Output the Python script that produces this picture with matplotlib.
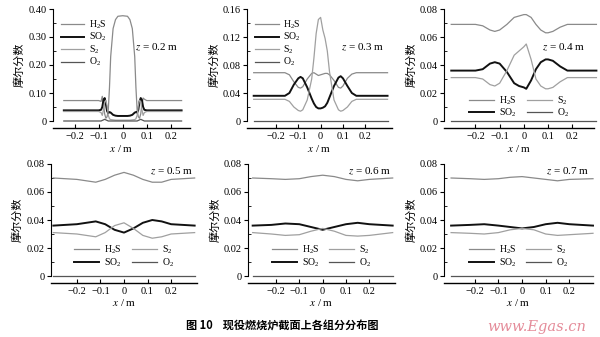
import matplotlib
matplotlib.use("Agg")
import matplotlib.pyplot as plt
from matplotlib.ticker import FixedLocator, MultipleLocator, FuncFormatter

plt.rcParams["font.family"] = ["Liberation Serif", "Noto Sans CJK SC"]
plt.rcParams["mathtext.fontset"] = "stix"
plt.rcParams["font.size"] = 7.5

# 截面位置 z = 0.2 m
x_02 = [-0.245, -0.10, -0.09, -0.085, -0.08, -0.075, -0.07, -0.065, -0.06, -0.055, -0.05,
        -0.04, -0.03, -0.02, 0.0, 0.02, 0.03, 0.04, 0.05, 0.055, 0.06, 0.065, 0.07,
        0.075, 0.08, 0.085, 0.09, 0.10, 0.245]
h2s_02 = [0.073, 0.073, 0.070, 0.088, 0.060, 0.025, 0.010, 0.015, 0.040, 0.120, 0.230,
          0.330, 0.362, 0.374, 0.376, 0.374, 0.362, 0.330, 0.230, 0.120, 0.040, 0.015,
          0.010, 0.025, 0.060, 0.082, 0.078, 0.073, 0.073]
so2_02 = [0.038, 0.038, 0.040, 0.050, 0.075, 0.082, 0.060, 0.035, 0.028, 0.032, 0.030,
          0.022, 0.019, 0.018, 0.018, 0.018, 0.019, 0.022, 0.030, 0.032, 0.030, 0.040,
          0.070, 0.082, 0.075, 0.050, 0.040, 0.038, 0.038]
s2_02 = [0.034, 0.034, 0.030, 0.020, 0.040, 0.068, 0.074, 0.055, 0.020, 0.008, 0.005,
         0.004, 0.003, 0.003, 0.003, 0.003, 0.003, 0.004, 0.005, 0.008, 0.020, 0.055,
         0.074, 0.068, 0.040, 0.020, 0.030, 0.034, 0.034]
o2_02 = [0.0, 0.0, 0.0, 0.002, 0.004, 0.006, 0.004, 0.002, 0.0, 0.0, 0.0,
         0.0, 0.0, 0.0, 0.0, 0.0, 0.0, 0.0, 0.0, 0.0, 0.0, 0.002,
         0.004, 0.006, 0.004, 0.002, 0.0, 0.0, 0.0]

# z = 0.3 m
x_03 = [-0.30, -0.16, -0.14, -0.12, -0.10, -0.09, -0.08, -0.06, -0.04, -0.03, -0.02, -0.01,
        0.0, 0.01, 0.02, 0.03, 0.04, 0.06, 0.08, 0.09, 0.10, 0.12, 0.14, 0.16, 0.30]
h2s_03 = [0.069, 0.069, 0.066, 0.056, 0.048, 0.047, 0.049, 0.060, 0.068, 0.069, 0.067, 0.065,
          0.066, 0.067, 0.068, 0.068, 0.066, 0.058, 0.048, 0.047, 0.050, 0.061, 0.067, 0.069, 0.069]
so2_03 = [0.036, 0.036, 0.040, 0.052, 0.061, 0.063, 0.061, 0.048, 0.032, 0.025, 0.020, 0.018,
          0.018, 0.019, 0.021, 0.026, 0.034, 0.050, 0.062, 0.064, 0.061, 0.050, 0.040, 0.036, 0.036]
s2_03 = [0.031, 0.031, 0.028, 0.020, 0.015, 0.014, 0.016, 0.030, 0.060, 0.090, 0.125, 0.145,
         0.148, 0.130, 0.118, 0.100, 0.070, 0.030, 0.016, 0.014, 0.015, 0.020, 0.028, 0.031, 0.031]
o2_03 = [0.0] * len(x_03)

# z = 0.4 m
x_04 = [-0.30, -0.20, -0.17, -0.14, -0.12, -0.10, -0.07, -0.04, -0.02, 0.0, 0.01, 0.03,
        0.05, 0.07, 0.09, 0.10, 0.12, 0.15, 0.18, 0.30]
h2s_04 = [0.069, 0.069, 0.068, 0.065, 0.064, 0.065, 0.069, 0.074, 0.075, 0.076, 0.076, 0.074,
          0.069, 0.065, 0.063, 0.063, 0.064, 0.067, 0.069, 0.069]
so2_04 = [0.036, 0.036, 0.037, 0.041, 0.042, 0.041, 0.035, 0.027, 0.025, 0.024, 0.023, 0.029,
          0.037, 0.042, 0.044, 0.044, 0.043, 0.039, 0.036, 0.036]
s2_04 = [0.031, 0.031, 0.030, 0.026, 0.025, 0.027, 0.036, 0.047, 0.050, 0.053, 0.055, 0.044,
         0.030, 0.025, 0.023, 0.023, 0.024, 0.028, 0.031, 0.031]
o2_04 = [0.0] * len(x_04)

# z = 0.5 m
x_05 = [-0.30, -0.20, -0.16, -0.12, -0.08, -0.04, 0.0, 0.04, 0.08, 0.12, 0.16, 0.20, 0.30]
h2s_05 = [0.070, 0.069, 0.068, 0.067, 0.069, 0.072, 0.074, 0.072, 0.069, 0.067, 0.067, 0.069, 0.070]
so2_05 = [0.036, 0.037, 0.038, 0.039, 0.037, 0.033, 0.031, 0.034, 0.038, 0.040, 0.039, 0.037, 0.036]
s2_05 = [0.031, 0.030, 0.029, 0.028, 0.031, 0.036, 0.038, 0.034, 0.029, 0.027, 0.028, 0.030, 0.031]
o2_05 = [0.0] * len(x_05)

# z = 0.6 m
x_06 = [-0.30, -0.22, -0.16, -0.10, -0.05, 0.0, 0.05, 0.10, 0.15, 0.20, 0.30]
h2s_06 = [0.070, 0.0695, 0.069, 0.0695, 0.071, 0.072, 0.071, 0.069, 0.068, 0.069, 0.070]
so2_06 = [0.036, 0.0365, 0.0375, 0.037, 0.035, 0.033, 0.035, 0.037, 0.038, 0.037, 0.036]
s2_06 = [0.031, 0.030, 0.029, 0.0295, 0.032, 0.034, 0.032, 0.029, 0.0285, 0.029, 0.031]
o2_06 = [0.0] * len(x_06)

# z = 0.7 m
x_07 = [-0.30, -0.22, -0.16, -0.10, -0.05, 0.0, 0.05, 0.10, 0.15, 0.20, 0.30]
h2s_07 = [0.070, 0.0695, 0.069, 0.0695, 0.0705, 0.071, 0.070, 0.069, 0.068, 0.069, 0.0695]
so2_07 = [0.036, 0.0365, 0.037, 0.036, 0.035, 0.034, 0.035, 0.037, 0.038, 0.037, 0.036]
s2_07 = [0.031, 0.0305, 0.030, 0.031, 0.033, 0.034, 0.033, 0.030, 0.029, 0.0295, 0.0305]
o2_07 = [0.0] * len(x_07)

z_labels = ["0.2", "0.3", "0.4", "0.5", "0.6", "0.7"]
species = [r"$\mathregular{H_2S}$", r"$\mathregular{SO_2}$", r"$\mathregular{S_2}$", r"$\mathregular{O_2}$"]
x_ticks = [-0.2, -0.1, 0.0, 0.1, 0.2]

panels = [
    (x_02, [h2s_02, so2_02, s2_02, o2_02]),
    (x_03, [h2s_03, so2_03, s2_03, o2_03]),
    (x_04, [h2s_04, so2_04, s2_04, o2_04]),
    (x_05, [h2s_05, so2_05, s2_05, o2_05]),
    (x_06, [h2s_06, so2_06, s2_06, o2_06]),
    (x_07, [h2s_07, so2_07, s2_07, o2_07]),
]

colors = ["#8a8a8a", "#111111", "#a0a0a0", "#555555"]
widths = [0.9, 1.4, 0.9, 0.9]

W, H = 600, 337
# left, right (px) and y of top / zero (px) for each panel
boxes = [
    (53, 190, 9, 121), (247, 392, 9, 121), (444, 594, 9, 121),
    (51, 197, 164, 276), (248, 395, 164, 276), (444, 593, 164, 276),
]
xlims = [(-0.29, 0.28), (-0.33, 0.32), (-0.33, 0.29),
         (-0.31, 0.31), (-0.32, 0.31), (-0.33, 0.30)]
ymax = [0.40, 0.16, 0.08, 0.08, 0.08, 0.08]
ystep = [0.10, 0.04, 0.02, 0.02, 0.02, 0.02]


def fmt_y(v, pos):
    if abs(v) < 1e-9:
        return "0"
    return f"{v:.2f}"


def fmt_x(v, pos):
    if abs(v) < 1e-9:
        return "0"
    return f"{v:.1f}".replace("-", "\u2212")


fig = plt.figure(figsize=(6.0, 3.37), dpi=100)
fig.patch.set_facecolor("white")

for i, (x, series) in enumerate(panels):
    l, r, t, b = boxes[i]
    ax = fig.add_axes([l / W, 1 - b / H, (r - l) / W, (b - t) / H])
    lines = []
    for y, c, lw, name in zip(series, colors, widths, species):
        ln, = ax.plot(x, y, color=c, lw=lw, label=name, clip_on=False)
        lines.append(ln)

    ax.set_xlim(*xlims[i])
    ax.set_ylim(0, ymax[i])
    for s in ["top", "right"]:
        ax.spines[s].set_visible(False)
    ax.spines["bottom"].set_position(("outward", 5))
    ax.spines["left"].set_linewidth(0.8)
    ax.spines["bottom"].set_linewidth(1.0)

    ax.yaxis.set_major_locator(MultipleLocator(ystep[i]))
    ax.yaxis.set_minor_locator(MultipleLocator(ystep[i] / 2))
    ax.yaxis.set_major_formatter(FuncFormatter(fmt_y))
    ax.xaxis.set_major_locator(FixedLocator(x_ticks))
    ax.xaxis.set_major_formatter(FuncFormatter(fmt_x))
    ax.tick_params(axis="y", which="major", direction="out", length=3, width=0.8, pad=1.5,
                   labelsize=7.5)
    ax.tick_params(axis="y", which="minor", direction="in", length=2, width=0.6)
    ax.tick_params(axis="x", which="major", direction="in", length=3, width=0.8, pad=3,
                   labelsize=7.5)

    ax.set_xlabel("$x$ / m", fontsize=8, labelpad=1)
    ax.set_ylabel("摩尔分数", fontsize=8, labelpad=3 if i in (0, 3) else 2)

    if i < 2:
        ax.legend(lines, species, loc="upper left", bbox_to_anchor=(0.03, 0.95),
                  frameon=False, fontsize=7, handlelength=2.4, handletextpad=0.5,
                  labelspacing=0.0, borderaxespad=0)
    else:
        ax.legend(lines, species, ncol=2, loc="lower center",
                  bbox_to_anchor=(0.5, -0.02 if i == 2 else 0.03),
                  frameon=False, fontsize=7, handlelength=2.6, handletextpad=0.5,
                  labelspacing=0.0, columnspacing=1.0, borderaxespad=0)

    if i == 0:
        zpos = (0.76, 0.66)
    elif i in (1, 2):
        zpos = (0.8, 0.66)
    else:
        zpos = (0.83, 0.93)
    ax.text(*zpos, f"$z$ = {z_labels[i]} m", transform=ax.transAxes,
            ha="center", va="center", fontsize=8)

fig.text(0.47, 1 - 326 / H, "图 10    现役燃烧炉截面上各组分分布图", ha="center", va="center",
         fontsize=8, fontweight="bold", family=["Noto Sans CJK SC"])
fig.text(537 / W, 1 - 327 / H, "www.Egas.cn", ha="center", va="center", fontsize=10.5,
         style="italic", color="#e07888", family=["DejaVu Serif"], alpha=0.85)

fig.savefig("out.png", dpi=100, facecolor="white")
